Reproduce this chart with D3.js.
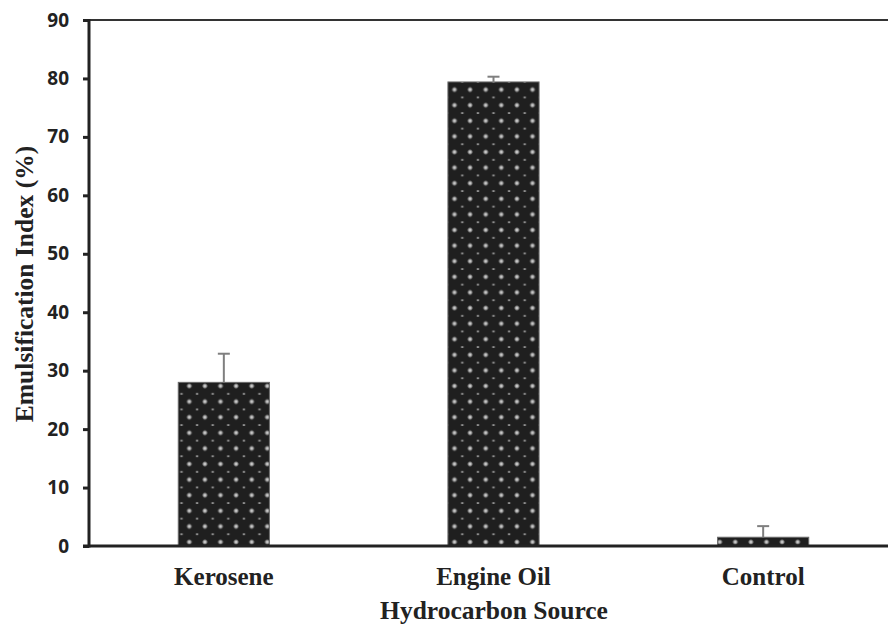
<!DOCTYPE html>
<html>
<head>
<meta charset="utf-8">
<script src="https://cdn.jsdelivr.net/npm/d3@7"></script>
<style>
html,body{margin:0;padding:0;background:#fff;}
svg{display:block;}
</style>
</head>
<body>
<svg id="chart" width="888" height="626"></svg>
<script>
const categories = ["Kerosene", "Engine Oil", "Control"];
const values = [28.0, 79.4, 1.5];
const errors = [4.9, 0.9, 1.9];
const yTicks = [0, 10, 20, 30, 40, 50, 60, 70, 80, 90];
const xTitle = "Hydrocarbon Source";
const yTitle = "Emulsification Index (%)";

(function () {
const svg = d3.select("#chart");
const W = 888;
const mLeft = 89, mTop = 20, mBottom = 546, rightExt = 898;

const y = d3.scaleLinear().domain([0, 90]).range([mBottom, mTop]);
const x = d3.scaleBand().domain(categories).range([mLeft, rightExt])
  .paddingInner(0.662).paddingOuter(0.331);

// pattern
const defs = svg.append("defs");
const rg = defs.append("radialGradient").attr("id", "dotg");
rg.append("stop").attr("offset", "0%").attr("stop-color", "#e6e6e6");
rg.append("stop").attr("offset", "45%").attr("stop-color", "#a8a8a8");
rg.append("stop").attr("offset", "100%").attr("stop-color", "#1f1f1f");
const ps = 15.6;
const pat = defs.append("pattern").attr("id", "dots")
  .attr("patternUnits", "userSpaceOnUse")
  .attr("width", ps).attr("height", ps)
  .attr("x", 189.3 - ps / 2).attr("y", 386 - ps / 2);
pat.append("rect").attr("width", ps).attr("height", ps).attr("fill", "#1f1f1f");
pat.append("circle").attr("cx", ps / 2).attr("cy", ps / 2).attr("r", 3)
  .attr("fill", "url(#dotg)");
[[0, 0], [ps, 0], [0, ps], [ps, ps]].forEach(([cx, cy]) => {
  pat.append("rect").attr("x", cx - 1.2).attr("y", cy - 0.6)
    .attr("width", 2.4).attr("height", 1.3).attr("fill", "#bdbdbd");
});

// top border
svg.append("line").attr("x1", mLeft).attr("x2", W).attr("y1", mTop).attr("y2", mTop)
  .attr("stroke", "#333").attr("stroke-width", 2);

// bars
svg.selectAll("rect.bar").data(categories).enter().append("rect")
  .attr("class", "bar")
  .attr("x", d => x(d))
  .attr("y", (d, i) => y(values[i]))
  .attr("width", x.bandwidth())
  .attr("height", (d, i) => y(0) - y(values[i]))
  .attr("fill", "url(#dots)")
  .attr("stroke", "#6a6a6a").attr("stroke-width", 1);

// error bars
const eg = svg.selectAll("g.err").data(categories).enter().append("g").attr("class", "err");
eg.append("line")
  .attr("x1", d => x(d) + x.bandwidth() / 2).attr("x2", d => x(d) + x.bandwidth() / 2)
  .attr("y1", (d, i) => y(values[i])).attr("y2", (d, i) => y(values[i] + errors[i]))
  .attr("stroke", "#7f7f7f").attr("stroke-width", 2);
eg.append("line")
  .attr("x1", d => x(d) + x.bandwidth() / 2 - 6).attr("x2", d => x(d) + x.bandwidth() / 2 + 6)
  .attr("y1", (d, i) => y(values[i] + errors[i])).attr("y2", (d, i) => y(values[i] + errors[i]))
  .attr("stroke", "#7f7f7f").attr("stroke-width", 2);

// y axis
const yAxis = d3.axisLeft(y).tickValues(yTicks).tickSize(6).tickPadding(14);
const ya = svg.append("g").attr("transform", `translate(${mLeft},0)`).call(yAxis);
ya.select(".domain").remove();
ya.selectAll(".tick line").attr("stroke", "#222").attr("stroke-width", 3);
ya.selectAll(".tick text").attr("font-family", "'Open Sans', sans-serif")
  .attr("font-weight", 700).attr("font-size", 19).attr("fill", "#222");
svg.append("line").attr("x1", mLeft).attr("x2", mLeft).attr("y1", mTop - 1).attr("y2", mBottom + 1.5)
  .attr("stroke", "#222").attr("stroke-width", 3);

// x axis
svg.append("line").attr("x1", mLeft - 6).attr("x2", W).attr("y1", mBottom).attr("y2", mBottom)
  .attr("stroke", "#222").attr("stroke-width", 3);
const xAxis = d3.axisBottom(x).tickSize(0).tickPadding(0);
const xa = svg.append("g").attr("transform", `translate(0,${mBottom})`).call(xAxis);
xa.select(".domain").remove();
xa.selectAll(".tick text").attr("dy", null).attr("y", 39)
  .attr("font-family", "'Liberation Serif', 'Times New Roman', serif")
  .attr("font-weight", 700).attr("font-size", 25).attr("fill", "#222");

// titles
svg.append("text").attr("x", 494).attr("y", 619).attr("text-anchor", "middle")
  .attr("font-family", "'Liberation Serif', 'Times New Roman', serif")
  .attr("font-weight", 700).attr("font-size", 25.5).attr("fill", "#222").text(xTitle);
svg.append("text").attr("transform", "translate(33,284) rotate(-90)").attr("text-anchor", "middle")
  .attr("font-family", "'Liberation Serif', 'Times New Roman', serif")
  .attr("font-weight", 700).attr("font-size", 25.5).attr("fill", "#222").text(yTitle);
})();
</script>
</body>
</html>
